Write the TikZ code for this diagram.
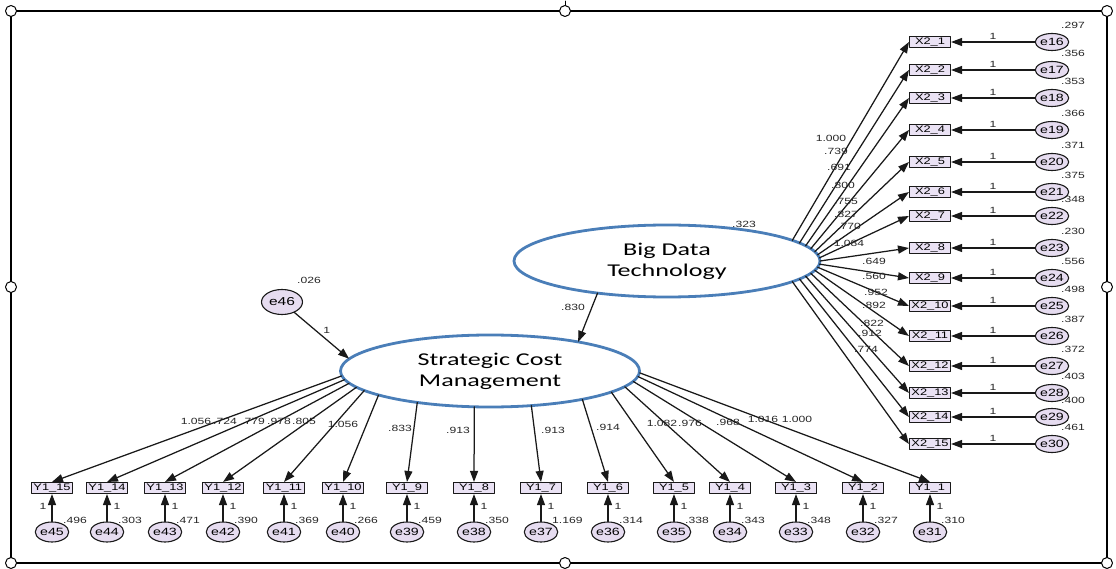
\documentclass[tikz,border=0pt]{standalone}
\usepackage{graphicx}
\usepackage{fontspec}
\setsansfont{Liberation Sans}
\newfontfamily\calfont{Carlito}
\usetikzlibrary{arrows.meta,shapes.geometric}
\definecolor{obsfill}{RGB}{234,226,244}
\definecolor{errfill}{RGB}{230,220,240}
\definecolor{latblue}{RGB}{74,126,184}
\newcommand\wide[2][1.35]{\scalebox{#1}[1]{#2}}
\begin{document}
\begin{tikzpicture}[x=1pt,y=-1pt,line cap=round,line join=round,>={Triangle[length=11pt,width=8pt]},
	lbl/.style={font=\sffamily\fontsize{9}{10}\selectfont,text=black!85,inner sep=0pt},
	obs/.style={draw=black!90,fill=obsfill,line width=1.1pt,minimum width=41pt,minimum height=11pt,inner sep=0pt,font=\sffamily\fontsize{9.5}{10}\selectfont},
	err/.style={ellipse,draw=black!90,fill=errfill,line width=1.1pt,minimum width=30pt,minimum height=17pt,inner sep=0pt,font=\sffamily\fontsize{10.5}{12}\selectfont},
	lat/.style={ellipse,draw=latblue,line width=2.8pt,fill=white,align=center,inner sep=0pt,font=\calfont\fontsize{18}{21}\selectfont},
	arr/.style={->,line width=1.25pt,black!90}]
			\useasboundingbox (0,0) rectangle (1116,569);
			% selection frame
			\draw[line width=2.8pt] (11,11) rectangle (1107,563);
			\draw[line width=0.8pt] (565,11)--(565,1);
			\foreach \p in {(11,11),(565,11),(1107,11),(11,287),(1107,287),(11,563),(565,563),(1107,563)}
				\draw[fill=white,line width=1pt] \p circle (5.5pt);
			% latent variables
			\node[lat,minimum width=306pt,minimum height=72pt] (bdt) at (667,261) {\wide[1.45]{Big Data}\\\wide[1.45]{Technology}};
			\node[lat,minimum width=299pt,minimum height=72pt] (scm) at (490,371) {\wide[1.45]{Strategic Cost}\\\wide[1.45]{Management}};
			\node[lbl] at (744,224) {\wide{.323}};
			\node[err,font=\sffamily\fontsize{11.5}{12}\selectfont,minimum width=41pt,minimum height=25pt] (e46) at (282,302) {\wide{e46}};
			\node[lbl] at (309,280) {\wide{.026}};
			\draw[arr] (e46)--([shift={({150*cos(200)},{36*sin(200)})}]scm.center) node[lbl,midway,above right=1pt]{\wide{1}};
			\draw[arr] ([shift={({153*cos(243)},{-36*sin(243)})}]bdt.center)--([shift={({150*cos(-54)},{36*sin(-54)})}]scm.center);
			\node[lbl] at (573,307) {\wide{.830}};
			% Big Data Technology indicators
			\foreach \i/\y/\vr/\ld/\lx/\ly in {1/42/.297/1.000/831/138,2/70/.356/.739/836/151,3/98/.353/.691/839/167,4/130/.366/.800/843/185,5/162/.371/.755/846/201,6/192/.375/.827/846/214,7/216/.348/.770/849/226,8/248/.230/1.084/849/243,9/278/.556/.649/874/261,10/306/.498/.560/874/276,11/336/.387/.952/876/292,12/366/.372/.892/874/305,13/393/.403/.822/872/323,14/417/.400/.912/870/333,15/444/.461/.774/866/349}{
				\pgfmathtruncatemacro\en{\i+15}
				\pgfmathsetmacro\ang{40-5*\i}
				\node[obs] (x\i) at (930,\y) {\wide{X2\_\i}};
				\node[err] (e\en) at (1052,\y) {\wide{e\en}};
				\node[lbl] at (1073,\y-17) {\wide{\vr}};
				\draw[arr] (e\en)--(x\i) node[lbl,midway,above=2pt]{\wide{1}};
				\draw[arr] ([shift={({153*cos(\ang)},{-36*sin(\ang)})}]bdt.center)--(x\i.west);
				\node[lbl] at (\lx,\ly) {\wide{\ld}};
			}
			% Strategic Cost Management indicators
			\foreach \i/\x/\ang/\ld/\lx/\ly/\vr in {1/930/3/1.000/797/419/.310,2/863/9/1.016/763/419/.327,3/796/17/.968/728/422/.348,4/730/26/.976/690/423/.343,5/674/36/1.082/662/423/.338,6/608/52/.914/608/427/.314,7/541/74/.913/553/430/1.169,8/474/96/.913/458/430/.350,9/407/119/.833/400/428/.459,10/343/138/1.056/343/424/.266,11/284/147/.805/304/421/.369,12/223/153/.978/279/421/.390,13/165/160/.779/253/421/.471,14/107/166/.724/225/421/.303,15/52/172/1.056/196/421/.496}{
				\pgfmathtruncatemacro\en{\i+30}
				\node[obs] (y\i) at (\x,488) {\wide{Y1\_\i}};
				\node[err,minimum height=20pt] (e\en) at (\x,532) {\wide{e\en}};
				\node[lbl,anchor=west] at (\x+11,520) {\wide{\vr}};
				\draw[arr] (e\en)--(y\i);
				\node[lbl] at ({\x+(\i==15?-9:10)},506) {\wide{1}};
				\draw[arr] ([shift={({150*cos(\ang)},{36*sin(\ang)})}]scm.center)--(y\i.north);
				\node[lbl] at (\lx,\ly) {\wide{\ld}};
			}
\end{tikzpicture}
\end{document}
